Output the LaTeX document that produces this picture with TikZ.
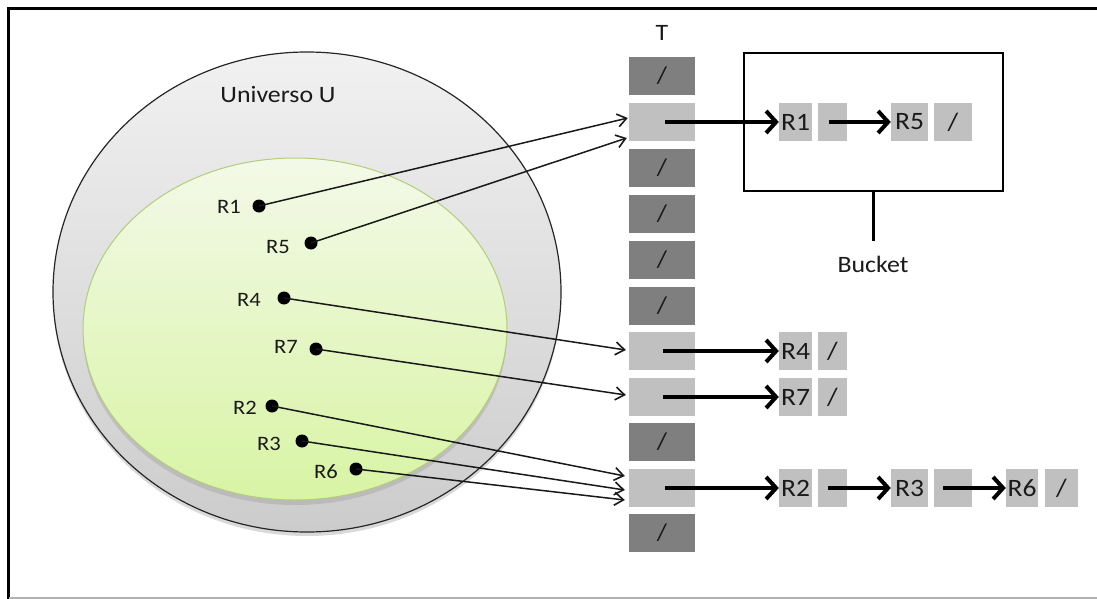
\documentclass[tikz,border=0pt]{standalone}
\usepackage{fontspec}
\setmainfont[FakeStretch=1.1]{Carlito}
\usetikzlibrary{arrows.meta,calc,shadows,shapes.geometric}

\definecolor{celldark}{HTML}{7F7F7F}
\definecolor{celllight}{HTML}{C0C0C0}
\definecolor{subsetedge}{HTML}{B4CC7C}
\definecolor{subsettop}{HTML}{F3F9E8}
\definecolor{subsetbot}{HTML}{D8F4A4}
\definecolor{txtc}{HTML}{1A1A1A}

\begin{document}
\begin{tikzpicture}[x=1pt,y=-1pt,
  label/.style={text=txtc, inner sep=0pt, font=\fontsize{20.5}{20.5}\selectfont},
  biglabel/.style={text=txtc, inner sep=0pt, font=\fontsize{23.5}{23.5}\selectfont},
  tdark/.style={fill=celldark, minimum width=66pt, minimum height=38pt, inner sep=0pt,
    text=black!90, font=\fontsize{24}{24}\selectfont},
  tlight/.style={fill=celllight, minimum width=66pt, minimum height=38pt, inner sep=0pt},
  cell/.style={fill=celllight, minimum height=38pt, inner sep=0pt, text=txtc,
    font=\fontsize{25}{25}\selectfont},
  dot/.style={circle, fill=black, inner sep=0pt, minimum size=13pt},
  thinarrow/.style={line width=1.5pt, draw=black!90,
    -{Straight Barb[length=9pt,width=13pt,line width=1.6pt]}},
  thickarrow/.style={line width=4pt, draw=black,
    -{Straight Barb[length=10pt,width=22pt,line width=4pt]}},
]
\useasboundingbox (0,0) rectangle (1097,599);

% page frame
\draw[line width=3pt] (8.5,599) -- (8.5,8.5) -- (1097,8.5);
\draw[line width=2pt, gray!60] (9,597.5) -- (1097,597.5);

% universe and key subset
\node[ellipse, draw=black!85, line width=1.2pt, minimum width=508pt, minimum height=480pt,
  top color=gray!11, bottom color=gray!40,
  drop shadow={shadow xshift=0pt, shadow yshift=-4pt, opacity=0.3}]
  (universe) at (307,292) {};
\node[ellipse, draw=subsetedge, line width=1pt, minimum width=424pt, minimum height=342pt,
  top color=subsettop, bottom color=subsetbot,
  drop shadow={shadow xshift=0pt, shadow yshift=-5pt, opacity=0.25}]
  (subset) at (295,329) {};
\node[biglabel] (ulabel) at (278,95) {Universo U};

% keys
\node[dot] (d1) at (259,206) {};
\node[dot] (d5) at (311,243) {};
\node[dot] (d4) at (284,298) {};
\node[dot] (d7) at (316,349) {};
\node[dot] (d2) at (272,406) {};
\node[dot] (d3) at (302,441) {};
\node[dot] (d6) at (356,469) {};
\node[label] (l1) at (229,207) {R1};
\node[label] (l5) at (278,247) {R5};
\node[label] (l4) at (249,300) {R4};
\node[label] (l7) at (286,347) {R7};
\node[label] (l2) at (245,408) {R2};
\node[label] (l3) at (269,444) {R3};
\node[label] (l6) at (326,472) {R6};

% table T
\node[biglabel] (tlabel) at (662,33) {T};
\node[tdark]  (t1)  at (662,76)  {/};
\node[tlight] (t2)  at (662,122) {};
\node[tdark]  (t3)  at (662,168) {/};
\node[tdark]  (t4)  at (662,214) {/};
\node[tdark]  (t5)  at (662,260) {/};
\node[tdark]  (t6)  at (662,306) {/};
\node[tlight] (t7)  at (662,351) {};
\node[tlight] (t8)  at (662,397) {};
\node[tdark]  (t9)  at (662,442) {/};
\node[tlight] (t10) at (662,488) {};
\node[tdark]  (t11) at (662,533) {/};

% hashing arrows
\draw[thinarrow] (d1.center) -- ($(t2.west)+(-1,-4)$);
\draw[thinarrow] (d5.center) -- ($(t2.west)+(-2,16)$);
\draw[thinarrow] (d4.center) -- ($(t7.west)+(-3,-1)$);
\draw[thinarrow] (d7.center) -- ($(t8.west)+(-3,-2)$);
\draw[thinarrow] (d2.center) -- ($(t10.west)+(-4,-12)$);
\draw[thinarrow] (d3.center) -- ($(t10.west)+(-4,2)$);
\draw[thinarrow] (d6.center) -- ($(t10.west)+(-4,12)$);

% bucket
\node[draw, line width=2pt, minimum width=259pt, minimum height=138pt, inner sep=0pt]
  (bucket) at (873.5,122) {};
\node[biglabel] (blabel) at (873,264) {Bucket};
\draw[line width=2.5pt] (bucket.south) -- ($(bucket.south)+(0,49)$);

% chains
\node[cell, minimum width=33pt] (r1) at (795.5,122) {R1};
\node[cell, minimum width=29pt] (p1) at (832.5,122) {};
\node[cell, minimum width=37pt] (r5) at (909.5,122) {R5};
\node[cell, minimum width=38pt] (n1) at (953,122) {/};

\node[cell, minimum width=33pt] (r4) at (795.5,351) {R4};
\node[cell, minimum width=29pt] (n4) at (832.5,351) {/};

\node[cell, minimum width=33pt] (r7) at (795.5,397) {R7};
\node[cell, minimum width=29pt] (n7) at (832.5,397) {/};

\node[cell, minimum width=33pt] (r2) at (795.5,488) {R2};
\node[cell, minimum width=29pt] (p2) at (832.5,488) {};
\node[cell, minimum width=37pt] (r3) at (909.5,488) {R3};
\node[cell, minimum width=38pt] (p3) at (953,488) {};
\node[cell, minimum width=32pt] (r6) at (1022,488) {R6};
\node[cell, minimum width=33pt] (n6) at (1061.5,488) {/};

\draw[thickarrow] ($(t2.center)+(3,0)$) -- (r1.west);
\draw[thickarrow] ($(p1.center)+(-4,0)$) -- (r5.west);
\draw[thickarrow] ($(t7.center)+(1,0)$) -- (r4.west);
\draw[thickarrow] ($(t8.center)+(1,0)$) -- (r7.west);
\draw[thickarrow] ($(t10.center)+(3,0)$) -- (r2.west);
\draw[thickarrow] ($(p2.center)+(-5,0)$) -- (r3.west);
\draw[thickarrow] ($(p3.center)+(-10,0)$) -- (r6.west);
\end{tikzpicture}
\end{document}
